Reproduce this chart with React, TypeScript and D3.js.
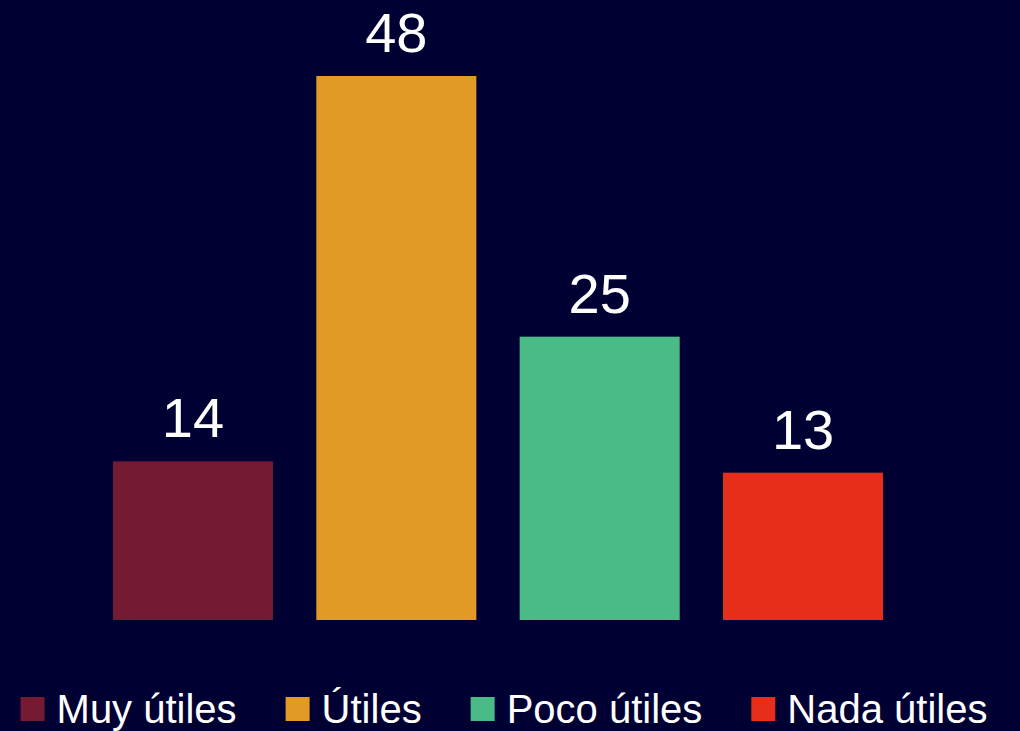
import React, { useEffect, useRef } from "react";
import * as d3 from "d3";

const categories = ["Muy útiles", "Útiles", "Poco útiles", "Nada útiles"];
const values = [14, 48, 25, 13];
const colors = ["#751A33", "#E29A27", "#4ABB86", "#E62E1B"];

export default function App() {
  const svgRef = useRef<SVGSVGElement>(null);

  useEffect(() => {
    document.body.style.margin = "0";
    const width = 1020;
    const height = 731;
    const font = "'Liberation Sans', Arial, Helvetica, sans-serif";

    const svg = d3.select(svgRef.current);
    svg.selectAll("*").remove();
    svg.attr("width", width).attr("height", height);

    svg.append("rect")
      .attr("width", width)
      .attr("height", height)
      .attr("fill", "#000033");

    // Scales
    const x = d3.scaleBand<string>()
      .domain(categories)
      .range([91.3, 904.7])
      .paddingInner(0.213)
      .paddingOuter(0.1065);

    const y = d3.scaleLinear()
      .domain([0, 48])
      .range([620, 76]);

    const data = categories.map((c, i) => ({ cat: c, value: values[i], color: colors[i] }));

    // Bars
    svg.selectAll(".bar")
      .data(data)
      .enter()
      .append("rect")
      .attr("class", "bar")
      .attr("x", d => x(d.cat)!)
      .attr("y", d => y(d.value))
      .attr("width", x.bandwidth())
      .attr("height", d => y(0) - y(d.value))
      .attr("fill", d => d.color);

    // Value labels
    svg.selectAll(".label")
      .data(data)
      .enter()
      .append("text")
      .attr("class", "label")
      .attr("x", d => x(d.cat)! + x.bandwidth() / 2)
      .attr("y", d => y(d.value) - 24)
      .attr("text-anchor", "middle")
      .attr("fill", "#ffffff")
      .attr("font-family", font)
      .attr("font-size", 56)
      .text(d => d.value);

    // Legend
    const legend = svg.append("g");
    const items = legend.selectAll(".item")
      .data(data)
      .enter()
      .append("g")
      .attr("class", "item");

    items.append("rect")
      .attr("width", 24)
      .attr("height", 24)
      .attr("y", 697)
      .attr("fill", d => d.color);

    const texts = items.append("text")
      .attr("x", 36)
      .attr("y", 723)
      .attr("fill", "#ffffff")
      .attr("font-family", font)
      .attr("font-size", 40)
      .text(d => d.cat);

    const widths: number[] = [];
    texts.each(function () {
      widths.push((this as SVGTextElement).getComputedTextLength());
    });
    const gap = 49;
    const itemWidths = widths.map(w => 36 + w);
    const total = d3.sum(itemWidths) + gap * (itemWidths.length - 1);
    let cursor = 504 - total / 2;
    items.attr("transform", (_d, i) => {
      const t = `translate(${cursor},0)`;
      cursor += itemWidths[i] + gap;
      return t;
    });
  }, []);

  return <svg ref={svgRef} style={{ display: "block" }}></svg>;
}
